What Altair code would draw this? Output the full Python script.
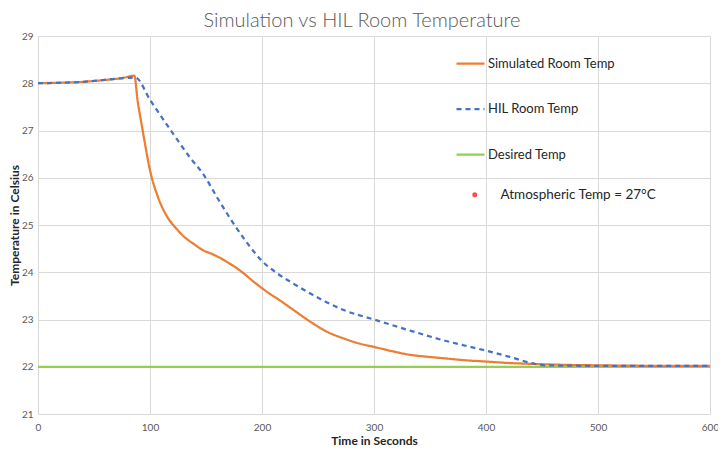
import altair as alt
import pandas as pd

SIM = "Simulated Room Temp"
HIL = "HIL Room Temp"
DES = "Desired Temp"
ATM = "Atmospheric Temp = 27°C"

sim_time = [0, 20, 40, 60, 75, 86, 89, 92, 95, 100, 107, 115, 124, 132, 139, 147,
            155, 162, 170, 176, 184, 191, 198, 206, 215, 230, 244, 259, 274, 287,
            300, 316, 333, 348, 362, 380, 400, 420, 442, 470, 500, 550, 600]
sim_temp = [28.0, 28.01, 28.03, 28.07, 28.11, 28.16, 27.62, 27.2, 26.79, 26.16, 25.6,
            25.19, 24.91, 24.72, 24.6, 24.47, 24.39, 24.31, 24.2, 24.11, 23.97, 23.83,
            23.7, 23.56, 23.42, 23.17, 22.94, 22.73, 22.59, 22.49, 22.42, 22.33, 22.25,
            22.21, 22.18, 22.14, 22.11, 22.08, 22.06, 22.04, 22.03, 22.02, 22.02]

hil_time = [0, 40, 87, 100, 121, 135, 148, 161, 176, 188, 200, 214, 228, 244, 258, 274,
            300, 333, 362, 400, 421, 442, 452, 500, 600]
hil_temp = [28.0, 28.03, 28.12, 27.65, 26.92, 26.45, 26.06, 25.54, 24.98, 24.58, 24.24,
            23.97, 23.76, 23.54, 23.36, 23.19, 23.0, 22.76, 22.56, 22.34, 22.21, 22.07,
            22.03, 22.02, 22.02]

des_time = [0, 600]
des_temp = [22.0, 22.0]

series_names = [SIM, HIL, DES]
series_colors = ["#ED7D31", "#4472C4", "#92D050"]
series_dash = [[1, 0], [5, 4], [1, 0]]

x_ticks = [0, 100, 200, 300, 400, 500, 600]
y_ticks = [21, 22, 23, 24, 25, 26, 27, 28, 29]

def frame(t, v, name):
    return pd.DataFrame({"time": t, "temp": v, "series": name})

df_sim = frame(sim_time, sim_temp, SIM)
df_hil = frame(hil_time, hil_temp, HIL)
df_des = frame(des_time, des_temp, DES)

FONT = "Lato"

line_legend = alt.Legend(
    title=None, orient="none", legendX=417, legendY=12, padding=0,
    symbolType="stroke", symbolSize=784, symbolStrokeWidth=2.25,
    labelFont=FONT, labelFontSize=13, labelColor="#262626", labelOffset=2,
    rowPadding=22.5, labelLimit=300,
)

x_enc = alt.X("time:Q", title="Time in Seconds",
              scale=alt.Scale(domain=[0, 600], nice=False),
              axis=alt.Axis(values=x_ticks, labelPadding=8, titlePadding=3, labelFlush=False))
y_enc = alt.Y("temp:Q", title="Temperature in Celsius",
              scale=alt.Scale(domain=[21, 29], nice=False, zero=False),
              axis=alt.Axis(values=y_ticks, labelPadding=5, titlePadding=0))
color_enc = alt.Color("series:N", scale=alt.Scale(domain=series_names, range=series_colors),
                      legend=line_legend)
dash_enc = alt.StrokeDash("series:N", scale=alt.Scale(domain=series_names, range=series_dash),
                          legend=line_legend)

def line_layer(df, interp):
    return alt.Chart(df).mark_line(strokeWidth=2.25, clip=True, interpolate=interp).encode(
        x=x_enc, y=y_enc, color=color_enc, strokeDash=dash_enc
    )

atm_layer = alt.Chart(alt.Data(values=[])).mark_point(filled=True, size=25, color="#FF0000").encode(
    x=alt.X("time:Q"), y=alt.Y("temp:Q"),
    shape=alt.Shape("atm:N", scale=alt.Scale(domain=[ATM], range=["circle"]),
                    legend=alt.Legend(title=None, orient="none", legendX=430, legendY=152,
                                      padding=0, symbolSize=25, symbolFillColor="#FF0000",
                                      symbolStrokeColor="#FF0000", symbolStrokeWidth=0,
                                      labelFont=FONT, labelFontSize=13.5, labelColor="#262626",
                                      labelOffset=19, labelLimit=300)),
)

chart = alt.layer(
    line_layer(df_des, "linear"), line_layer(df_sim, "monotone"),
    line_layer(df_hil, "monotone"), atm_layer
).properties(
    width=672, height=378,
    title=alt.TitleParams("Simulation vs HIL Room Temperature", font=FONT, fontSize=20,
                          fontWeight=300, color="#595959", anchor="middle", offset=0, dx=-12),
    autosize=alt.AutoSizeParams(type="none"),
    padding={"left": 30, "top": 28, "right": 8, "bottom": 35},
).configure_view(stroke=None).configure_axis(
    domain=False, ticks=False, grid=True, gridColor="#D9D9D9", gridWidth=1,
    labelFont=FONT, labelFontSize=10, labelColor="#595959",
    titleFont=FONT, titleFontSize=12, titleFontWeight="bold", titleColor="#262626",
)

chart.save("out.html", embed_options={"renderer": "svg", "actions": False})
